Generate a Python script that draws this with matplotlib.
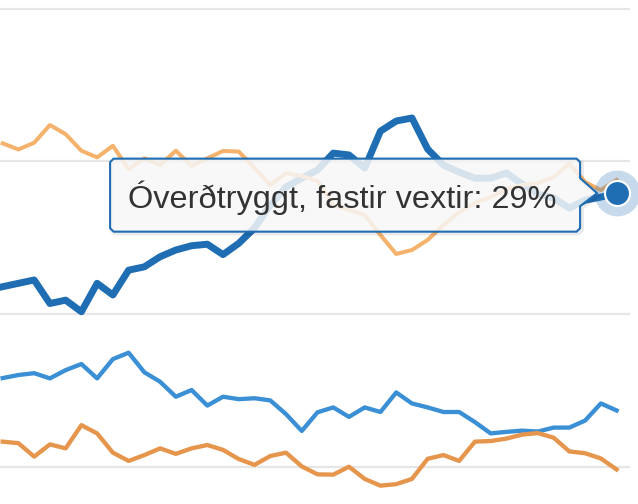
import numpy as np
import matplotlib.pyplot as plt
from matplotlib.patches import Polygon

# interest rate series (%), 40 observations each
fixed_nonindexed = [25.90, 26.01, 26.12, 25.35, 25.46, 25.08, 26.01, 25.63, 26.44, 26.55,
                    26.88, 27.10, 27.24, 27.29, 26.95, 27.32, 27.82, 28.57, 29.16, 29.45,
                    29.72, 30.27, 30.21, 29.78, 30.99, 31.32, 31.42, 30.40, 29.88, 29.65,
                    29.45, 29.45, 29.62, 29.26, 28.93, 28.80, 28.47, 28.73, 28.83, 28.96]
light_orange = [30.59, 30.39, 30.61, 31.19, 30.89, 30.35, 30.13, 30.51, 29.74, 30.10,
                29.88, 30.35, 29.85, 30.10, 30.34, 30.32, 29.78, 29.23, 29.61, 29.52,
                29.36, 28.57, 28.41, 28.24, 27.59, 26.97, 27.10, 27.43, 27.92, 28.34,
                28.64, 28.83, 29.09, 29.23, 29.29, 29.49, 29.93, 29.32, 29.06, 29.39]
mid_blue = [22.91, 23.01, 23.07, 22.90, 23.17, 23.37, 22.90, 23.53, 23.74, 23.10,
            22.79, 22.30, 22.52, 22.01, 22.30, 22.22, 22.25, 22.18, 21.73, 21.18,
            21.79, 21.95, 21.64, 21.95, 21.80, 22.44, 22.08, 21.95, 21.80, 21.80,
            21.47, 21.10, 21.15, 21.19, 21.16, 21.29, 21.29, 21.52, 22.08, 21.85]
orange = [20.83, 20.78, 20.34, 20.74, 20.61, 21.37, 21.10, 20.47, 20.20, 20.39,
          20.61, 20.43, 20.61, 20.72, 20.56, 20.26, 20.07, 20.36, 20.47, 20.02,
          19.76, 19.75, 20.01, 19.61, 19.39, 19.44, 19.61, 20.27, 20.39, 20.20,
          20.83, 20.85, 20.93, 21.06, 21.11, 20.96, 20.51, 20.45, 20.28, 19.92]
grid_values = [20, 25, 30, 35]
tooltip_label = "Óverðtryggt, fastir vextir"

dark_blue = '#1f6db3'

fig = plt.figure(figsize=(6.38, 5.04), dpi=100)
ax = fig.add_axes([0, 0, 1, 1])
ax.set_xlim(-0.17, 40.36)
ax.set_ylim(18.79, 35.28)
ax.axis('off')

for g in grid_values:
    ax.axhline(g, xmin=0, xmax=629 / 638, color='#e6e6e6', lw=1.6, zorder=1)

x = np.arange(len(fixed_nonindexed))
ax.plot(x, fixed_nonindexed, color=dark_blue, lw=5, solid_joinstyle='round', zorder=3)
ax.plot(x, light_orange, color='#f5b26c', lw=2.9, solid_joinstyle='round', zorder=4)
ax.plot(x, mid_blue, color='#3b8fd5', lw=3.1, solid_joinstyle='round', zorder=4)
ax.plot(x, orange, color='#e6954c', lw=3.1, solid_joinstyle='round', zorder=4)

# hovered point: halo + marker
last = (x[-1], fixed_nonindexed[-1])
ax.plot(*last, 'o', ms=33, color=dark_blue, alpha=0.25, mec='none', zorder=5)
ax.plot(*last, 'o', ms=18, color=dark_blue, mec='white', mew=1.5, zorder=6)

# tooltip callout, in pixel offsets from the hovered point (y down)
fig.canvas.draw()
px, py = ax.transData.transform(last)
offs = [(-503, -34.5), (-40, -34.5), (-36.5, -31), (-36.5, -15), (-19.5, 0),
        (-36.5, 13), (-36.5, 35), (-40, 38.5), (-503, 38.5), (-506.5, 35),
        (-506.5, -31)]
verts = [(px + dx, py - dy) for dx, dy in offs]
shadow = [(vx + 1.5, vy - 1.5) for vx, vy in verts]
fig.patches.append(Polygon(shadow, closed=True, transform=None, fc='none',
                           ec='black', lw=3.5, alpha=0.08, joinstyle='round', zorder=7))
fig.patches.append(Polygon(verts, closed=True, transform=None, fc='#f7f7f7',
                           alpha=0.85, ec='none', zorder=8))
fig.patches.append(Polygon(verts, closed=True, transform=None, fc='none',
                           ec=dark_blue, lw=1.5, joinstyle='round', zorder=9))
fig.text((px - 488.5) / 638, (py - 15) / 504,
         f"{tooltip_label}: {fixed_nonindexed[-1]:.0f}%",
         family='Liberation Sans', fontsize=23.4, color='#333333',
         va='baseline', ha='left', zorder=10)

fig.savefig('out.png', dpi=100)
